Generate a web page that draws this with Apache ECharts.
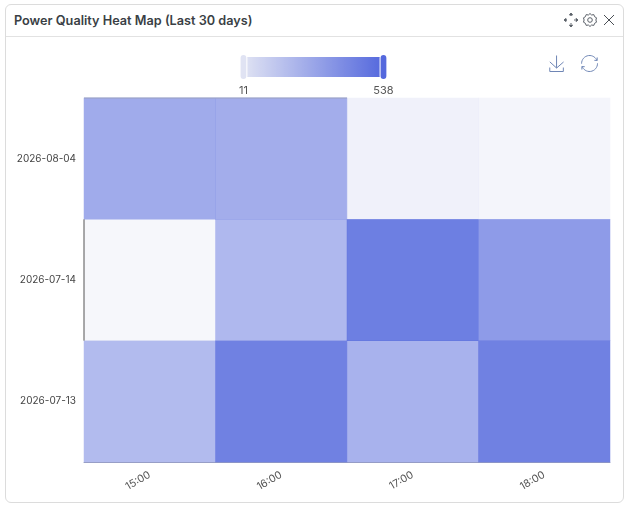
<!DOCTYPE HTML>
<html>
<head>
<meta charset="UTF-8" />
<script src="https://cdn.jsdelivr.net/npm/echarts@6/dist/echarts.min.js"></script>
<style>
  html, body { margin: 0; padding: 0; background: #fff; font-family: Inter, sans-serif; }
  #card { position: absolute; left: 5px; top: 4px; width: 617px; height: 497px; border: 1px solid #dcdcdc; border-radius: 6px; box-sizing: content-box; }
  #head { height: 31px; border-bottom: 1px solid #e2e2e2; }
  #title { position: absolute; left: 8px; top: 8px; font-size: 12.7px; font-weight: 600; color: #3a3f45; white-space: nowrap; }
  #icons { position: absolute; right: 6px; top: 7px; display: flex; gap: 3px; }
  #main { position: absolute; left: 0; top: 0; width: 630px; height: 507px; }
</style>
</head>
<body>
<div id="card">
  <div id="head"></div>
  <div id="title">Power Quality Heat Map (Last 30 days)</div>
  <div id="icons">
    <svg width="16" height="16" viewBox="0 0 16 16" fill="none" stroke="#5a6068" stroke-width="1"><path d="M8 3v2M8 11v2M3 8h2M11 8h2" stroke-dasharray="1 1"/><path d="M8 1l-1.5 2h3zM8 15l-1.5-2h3zM1 8l2-1.5v3zM15 8l-2-1.5v3z" fill="#5a6068"/></svg>
    <svg width="16" height="16" viewBox="0 0 16 16" fill="none" stroke="#5a6068" stroke-width="1"><circle cx="8" cy="8" r="2.3"/><path d="M8 1.5l1.6 1.5 2.2-.4.8 2.1 1.9 1.1-.6 2.2.6 2.2-1.9 1.1-.8 2.1-2.2-.4L8 14.5l-1.6-1.5-2.2.4-.8-2.1-1.9-1.1.6-2.2-.6-2.2 1.9-1.1.8-2.1 2.2.4z"/></svg>
    <svg width="16" height="16" viewBox="0 0 16 16" fill="none" stroke="#4a4f55" stroke-width="1"><path d="M3 3l10 10M13 3L3 13"/></svg>
  </div>
</div>
<div id="main"></div>
<script>
var hours = ['15:00', '16:00', '17:00', '18:00'];
var dates = ['2026-07-13', '2026-07-14', '2026-08-04'];
var row0713 = [343, 533, 376, 533];
var row0714 = [11, 353, 538, 453];
var row0804 = [401, 392, 58, 26];
var valueMin = 11;
var valueMax = 538;
// cells that carry a visible edge line in the picture: [hour index, date index]
var leftEdgeCells = [[0, 1]];
var topEdgeCells = [[0, 2], [1, 2]];

var rows = [row0713, row0714, row0804];
var cells = [];
rows.forEach(function (row, y) {
  row.forEach(function (v, x) {
    cells.push([x, y, v]);
  });
});

function edgeRenderer(side, color) {
  return function (params, api) {
    var c = api.coord([api.value(0), api.value(1)]);
    var s = api.size([1, 1]);
    var x1 = c[0] - s[0] / 2;
    var y1 = c[1] - s[1] / 2;
    var shape = side === 'left'
      ? { x1: x1, y1: y1, x2: x1, y2: y1 + s[1] }
      : { x1: x1, y1: y1, x2: x1 + s[0], y2: y1 };
    return { type: 'line', shape: shape, style: { stroke: color, lineWidth: 1 } };
  };
}

var myChart = echarts.init(document.getElementById('main'));
myChart.setOption({
  animation: false,
  textStyle: { fontFamily: 'Inter' },
  grid: { left: 84, right: 20, top: 98, bottom: 45 },
  toolbox: {
    right: 15,
    top: 38,
    itemSize: 16,
    itemGap: 13,
    iconStyle: { borderColor: '#6f86b5', borderWidth: 1 },
    feature: { saveAsImage: { title: '' }, restore: { title: '' } }
  },
  visualMap: {
    type: 'continuous',
    seriesIndex: 0,
    min: valueMin,
    max: valueMax,
    calculable: true,
    orient: 'horizontal',
    left: 224,
    top: 39,
    itemWidth: 20,
    itemHeight: 140,
    text: ['', ''],
    showLabel: true,
    align: 'top',
    textStyle: { color: '#555', fontSize: 11 },
    inRange: { color: ['#e0e3f3', '#5468dd'], opacity: [0.3, 0.85] }
  },
  xAxis: {
    type: 'category',
    data: hours,
    axisTick: { show: false },
    axisLine: { lineStyle: { color: '#9aa0c0' } },
    axisLabel: { rotate: 30, color: '#555', fontSize: 10.5, margin: 12 }
  },
  yAxis: {
    type: 'category',
    data: dates,
    axisTick: { show: false },
    axisLine: { show: false },
    axisLabel: { color: '#444', fontSize: 10, margin: 8 }
  },
  series: [{
    type: 'heatmap',
    data: cells
  }, {
    type: 'custom',
    silent: true,
    z: 3,
    data: leftEdgeCells,
    encode: { x: 0, y: 1 },
    renderItem: edgeRenderer('left', '#555')
  }, {
    type: 'custom',
    silent: true,
    z: 3,
    data: topEdgeCells,
    encode: { x: 0, y: 1 },
    renderItem: edgeRenderer('top', '#9aa0c0')
  }]
});
</script>
</body>
</html>
